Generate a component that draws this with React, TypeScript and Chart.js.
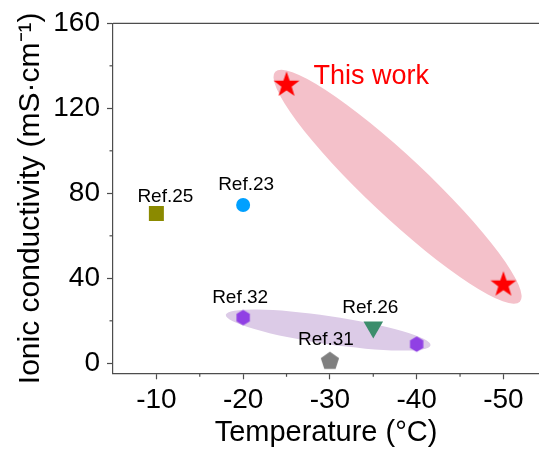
import React, { useEffect, useRef } from 'react';
import { Chart, registerables } from 'chart.js';

Chart.register(...registerables);

// ---------- data ----------
const THIS_WORK_T = [-25, -50];
const THIS_WORK_S = [131, 37];
const REF25_T = [-10];
const REF25_S = [70.5];
const REF23_T = [-20];
const REF23_S = [74.5];
const REF32_T = [-20, -40];
const REF32_S = [21.5, 9];
const REF26_T = [-35];
const REF26_S = [17];
const REF31_T = [-30];
const REF31_S = [1];

const X_MAJOR = [-10, -20, -30, -40, -50];
const X_MINOR = [-15, -25, -35, -45];
const Y_MAJOR = [0, 40, 80, 120, 160];
const Y_MINOR = [20, 60, 100, 140];

const X_LIMITS = [-54.1, -5];
const Y_LIMITS = [-4.7, 160];

// ellipse highlights, major axis endpoints in data units
const ELLIPSES = [
  { from: [-23.7, 137.2], to: [-51.9, 29.0], halfWidth: 30, color: '#f4c1ca' },
  { from: [-18.0, 22.8], to: [-41.6, 8.5], halfWidth: 14, color: '#dccbe7' },
];

const FONT = '"Liberation Sans", Arial, sans-serif';
const AXIS_COLOR = '#4d4d4d';

function makeShape(size: number, draw: (ctx: CanvasRenderingContext2D, c: number) => void) {
  const cv = document.createElement('canvas');
  cv.width = size;
  cv.height = size;
  const ctx = cv.getContext('2d')!;
  draw(ctx, size / 2);
  return cv;
}

function polyPath(ctx: CanvasRenderingContext2D, c: number, radii: number[], n: number) {
  ctx.beginPath();
  for (let i = 0; i < n; i++) {
    const a = -Math.PI / 2 + (i * 2 * Math.PI) / n;
    const r = radii[i % radii.length];
    const x = c + r * Math.cos(a);
    const y = c + r * Math.sin(a);
    if (i === 0) ctx.moveTo(x, y);
    else ctx.lineTo(x, y);
  }
  ctx.closePath();
}

export default function App() {
  const ref = useRef<HTMLCanvasElement>(null);

  useEffect(() => {
    const star = makeShape(30, (ctx, c) => {
      polyPath(ctx, c, [13.6, 5.4], 10);
      ctx.fillStyle = '#ff0000';
      ctx.fill();
    });
    const hexagon = makeShape(18, (ctx, c) => {
      polyPath(ctx, c, [7.7], 6);
      ctx.fillStyle = '#9040e4';
      ctx.fill();
    });
    const pentagon = makeShape(22, (ctx, c) => {
      polyPath(ctx, c, [9.6], 5);
      ctx.fillStyle = '#7f7f7f';
      ctx.fill();
    });

    const pts = (xs: number[], ys: number[]) => xs.map((x, i) => ({ x, y: ys[i] }));

    const labels = [
      { ds: 0, pt: 0, text: 'This work', dx: 27, dy: -8, color: '#ff0000', size: 27, align: 'left' },
      { ds: 1, pt: 0, text: 'Ref.25', dx: 9, dy: -17, color: '#000', size: 19, align: 'center' },
      { ds: 2, pt: 0, text: 'Ref.23', dx: 3, dy: -20.5, color: '#000', size: 19, align: 'center' },
      { ds: 3, pt: 0, text: 'Ref.32', dx: -3, dy: -19.5, color: '#000', size: 19, align: 'center' },
      { ds: 4, pt: 0, text: 'Ref.26', dx: -3, dy: -19.5, color: '#000', size: 19, align: 'center' },
      { ds: 5, pt: 0, text: 'Ref.31', dx: -4, dy: -21, color: '#000', size: 19, align: 'center' },
    ];

    const decor = {
      id: 'decor',
      beforeDatasetsDraw(chart: any) {
        const { ctx, scales } = chart;
        const xs = scales.x, ys = scales.y;
        ctx.save();
        for (const e of ELLIPSES) {
          const x1 = xs.getPixelForValue(e.from[0]);
          const y1 = ys.getPixelForValue(e.from[1]);
          const x2 = xs.getPixelForValue(e.to[0]);
          const y2 = ys.getPixelForValue(e.to[1]);
          const cx = (x1 + x2) / 2, cy = (y1 + y2) / 2;
          const a = Math.hypot(x2 - x1, y2 - y1) / 2;
          const ang = Math.atan2(y2 - y1, x2 - x1);
          ctx.beginPath();
          ctx.ellipse(cx, cy, a, e.halfWidth, ang, 0, Math.PI * 2);
          ctx.fillStyle = e.color;
          ctx.fill();
        }
        ctx.restore();
      },
      afterDraw(chart: any) {
        const { ctx, scales, chartArea } = chart;
        const xs = scales.x, ys = scales.y;
        ctx.save();
        ctx.strokeStyle = AXIS_COLOR;
        ctx.lineWidth = 1.2;
        // top frame line
        ctx.beginPath();
        ctx.moveTo(chartArea.left, chartArea.top);
        ctx.lineTo(chartArea.right, chartArea.top);
        ctx.stroke();
        // minor ticks
        for (const v of X_MINOR) {
          const px = xs.getPixelForValue(v);
          ctx.beginPath();
          ctx.moveTo(px, chartArea.bottom);
          ctx.lineTo(px, chartArea.bottom + 3.5);
          ctx.stroke();
        }
        for (const v of Y_MINOR) {
          const py = ys.getPixelForValue(v);
          ctx.beginPath();
          ctx.moveTo(chartArea.left, py);
          ctx.lineTo(chartArea.left - 3.5, py);
          ctx.stroke();
        }
        ctx.restore();
      },
      afterDatasetsDraw(chart: any) {
        const { ctx } = chart;
        ctx.save();
        for (const l of labels) {
          const el = chart.getDatasetMeta(l.ds).data[l.pt];
          if (!el) continue;
          ctx.font = `${l.size}px ${FONT}`;
          ctx.fillStyle = l.color;
          ctx.textAlign = l.align as CanvasTextAlign;
          ctx.textBaseline = 'middle';
          ctx.fillText(l.text, el.x + l.dx, el.y + l.dy);
        }
        ctx.restore();
      },
    };

    const chart = new Chart(ref.current!, {
      type: 'scatter',
      data: {
        datasets: [
          { label: 'This work', data: pts(THIS_WORK_T, THIS_WORK_S), pointStyle: star as any, pointRadius: 8 },
          { label: 'Ref.25', data: pts(REF25_T, REF25_S), pointStyle: 'rect', pointRadius: 10.6, backgroundColor: '#8b8a00', borderWidth: 0 },
          { label: 'Ref.23', data: pts(REF23_T, REF23_S), pointStyle: 'circle', pointRadius: 7, backgroundColor: '#00a0ff', borderWidth: 0 },
          { label: 'Ref.32', data: pts(REF32_T, REF32_S), pointStyle: hexagon as any, pointRadius: 8 },
          { label: 'Ref.26', data: pts(REF26_T, REF26_S), pointStyle: 'triangle', rotation: 180, pointRadius: 11.3, backgroundColor: '#3c8d6c', borderWidth: 0 },
          { label: 'Ref.31', data: pts(REF31_T, REF31_S), pointStyle: pentagon as any, pointRadius: 8 },
        ] as any,
      },
      options: {
        animation: false,
        responsive: true,
        maintainAspectRatio: false,
        layout: { autoPadding: false, padding: { top: 23.3, right: 0, left: 0, bottom: 0 } },
        plugins: { legend: { display: false }, tooltip: { enabled: false } },
        scales: {
          x: {
            type: 'linear',
            position: 'bottom',
            reverse: true,
            min: X_LIMITS[0],
            max: X_LIMITS[1],
            afterBuildTicks: (s: any) => { s.ticks = X_MAJOR.map((value) => ({ value })); },
            afterFit: (s: any) => { s.height = 78.7; s.paddingLeft = 0; s.paddingRight = 0; },
            ticks: {
              font: { family: FONT, size: 28 },
              color: '#000',
              padding: 4,
              maxRotation: 0,
              autoSkip: false,
              callback: (v: any) => String(v),
            },
            grid: { drawOnChartArea: false, drawTicks: true, tickLength: 6, tickColor: AXIS_COLOR, tickWidth: 1.2 },
            border: { color: AXIS_COLOR, width: 1.2 },
            title: {
              display: true,
              text: 'Temperature (°C)',
              font: { family: FONT, size: 29 },
              color: '#000',
              padding: { top: 0, bottom: 2 },
            },
          },
          y: {
            type: 'linear',
            min: Y_LIMITS[0],
            max: Y_LIMITS[1],
            afterBuildTicks: (s: any) => { s.ticks = Y_MAJOR.map((value) => ({ value })); },
            afterFit: (s: any) => { s.width = 113; s.paddingTop = 0; s.paddingBottom = 0; },
            ticks: {
              font: { family: FONT, size: 28 },
              color: '#000',
              padding: 7,
              callback: (v: any) => String(v),
            },
            grid: { drawOnChartArea: false, drawTicks: true, tickLength: 6, tickColor: AXIS_COLOR, tickWidth: 1.2 },
            border: { color: AXIS_COLOR, width: 1.2 },
            title: {
              display: true,
              text: 'Ionic conductivity (mS·cm⁻¹)',
              font: { family: FONT, size: 30 },
              color: '#000',
              padding: { top: 13, bottom: 0 },
            },
          },
        },
      },
      plugins: [decor],
    });
    return () => chart.destroy();
  }, []);

  return (
    <div style={{ position: 'absolute', left: 0, top: 0, width: 539, height: 452, background: '#fff' }}>
      <canvas ref={ref} />
    </div>
  );
}
